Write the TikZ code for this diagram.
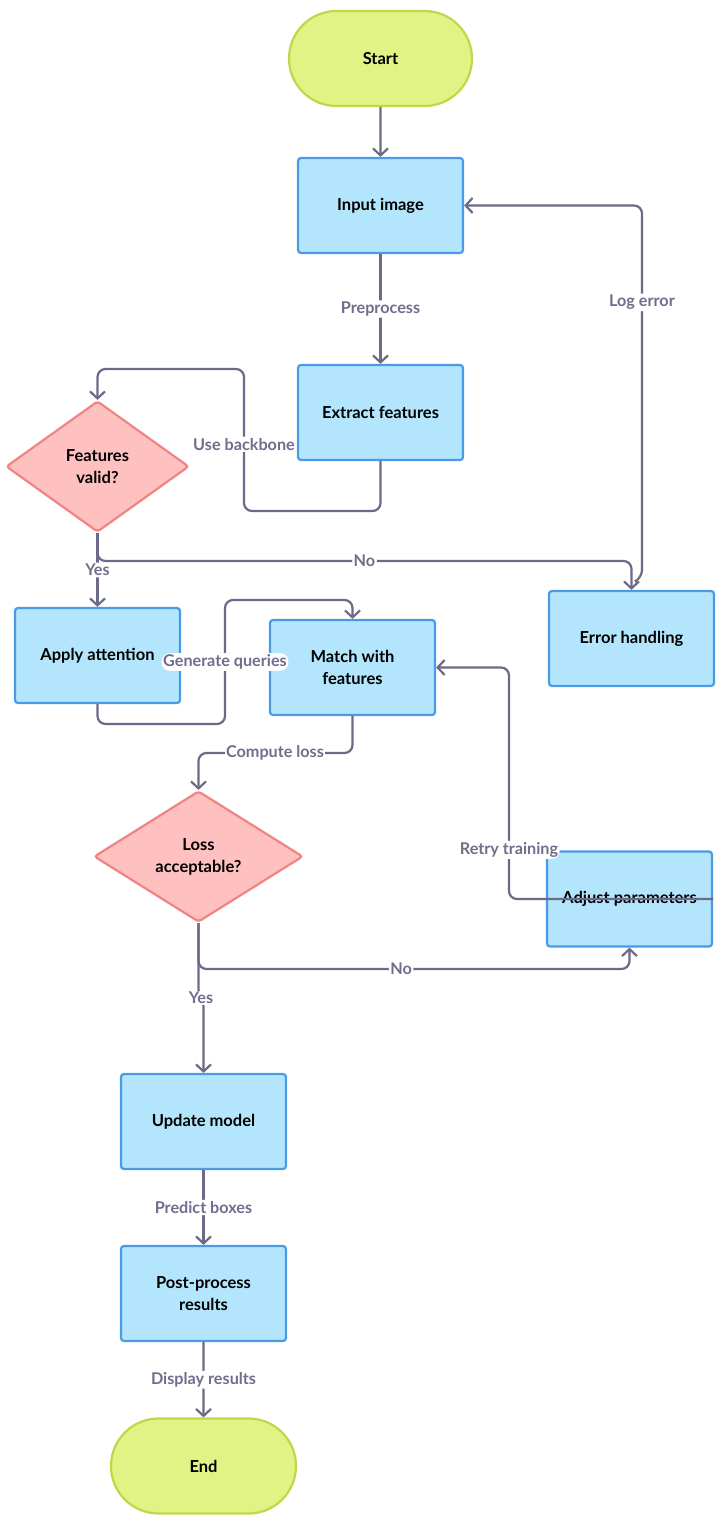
\documentclass[tikz,border=0pt]{standalone}
\usepackage{fontspec}
\setmainfont{Lato}
\usetikzlibrary{shapes.geometric,shapes.misc,arrows.meta}
\definecolor{edgec}{HTML}{6C6A88}
\definecolor{lblc}{HTML}{6F6E8C}
\definecolor{boxf}{HTML}{B3E5FC}
\definecolor{boxd}{HTML}{4A9BE3}
\definecolor{decf}{HTML}{FFC0C0}
\definecolor{decd}{HTML}{F08484}
\definecolor{termf}{HTML}{E1F384}
\definecolor{termd}{HTML}{BCD94A}
\tikzset{
  base/.style={font=\fontsize{16.5}{22}\selectfont\bfseries, text=black, align=center, line width=2.2pt, inner sep=0pt},
  procbox/.style={base, rectangle, rounded corners=3pt, draw=boxd, fill=boxf, minimum width=165pt, minimum height=95pt},
  decbox/.style={base, diamond, rounded corners=3pt, draw=decd, fill=decf, minimum height=131pt},
  termbox/.style={base, rounded rectangle, draw=termd, fill=termf, minimum width=183pt, minimum height=95pt},
  arr/.style={draw=edgec, line width=2.2pt, rounded corners=8pt, -{Straight Barb[length=7pt,width=15pt]}},
  lbl/.style={font=\fontsize{16.2}{19}\selectfont\bfseries, text=lblc, fill=white, inner sep=1.5pt}
}
\begin{document}
\begin{tikzpicture}[x=1pt,y=-1pt]
\useasboundingbox (0,0) rectangle (726,1525);
\fill[white] (0,0) rectangle (726,1525);
% nodes
\node[termbox] (start) at (380.5,58.5) {Start};
\node[procbox] (ii) at (380.5,205.5) {Input image};
\node[procbox] (ef) at (380.5,412.5) {Extract features};
\node[decbox, minimum width=183pt] (fv) at (97.5,466.5) {Features\\valid?};
\node[procbox] (eh) at (631.5,638.5) {Error handling};
\node[procbox] (aa) at (97.5,655.5) {Apply attention};
\node[procbox] (mf) at (352.5,667.5) {Match with\\features};
\node[decbox, minimum width=209pt] (la) at (198.5,856.5) {Loss\\acceptable?};
\node[procbox] (ap) at (629.5,899) {Adjust parameters};
\node[procbox] (um) at (203.5,1121.5) {Update model};
\node[procbox] (pp) at (203.5,1293.5) {Post-process\\results};
\node[termbox, minimum width=185pt] (end) at (203.5,1466) {End};
% edges
\draw[arr] (start) -- (ii);
\draw[arr] (ii) -- node[lbl]{Preprocess} (ef);
\draw[arr] (ef.south) |- (244,511) -- node[lbl, pos=0.47]{Use backbone} (244,369) -| (fv.north);
\draw[arr] (fv.south) -- node[lbl]{Yes} (aa.north);
\draw[arr] (fv.south) -- (97.5,561) -| node[lbl, pos=0.25]{No} (eh.north);
\coordinate (lestart) at (636,581);
\draw[arr] (lestart) -- (642,578) |- node[lbl, pos=0.37]{Log error} (ii.east);
\draw[arr] (aa.south) |- (225,724) -- node[lbl]{Generate queries} (225,600) -| (mf.north);
\draw[arr] (mf.south) |- (198.5,753) -- (la.north);
\node[lbl] (cl) at (275,753) {Compute loss};
\draw[arr, rounded corners=0pt] (la.south) -- (198.5,990) -- node[lbl]{Yes} (203.5,1006) -- (um.north);
\draw[arr] (la.south) -- (198.5,969) -| node[lbl, pos=0.235]{No} (ap.south);
\draw[arr] (ap.east) -- (509,899) |- node[lbl, pos=0.106]{Retry training} (mf.east);
\draw[arr] (um) -- node[lbl]{Predict boxes} (pp);
\draw[arr] (pp) -- node[lbl]{Display results} (end);
\end{tikzpicture}
\end{document}
